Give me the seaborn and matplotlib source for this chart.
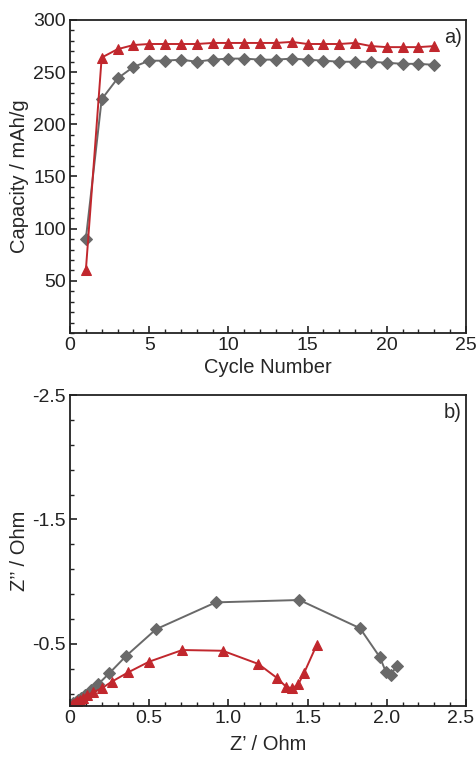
import numpy as np
import pandas as pd
import matplotlib
matplotlib.use("Agg")
import matplotlib.pyplot as plt
import matplotlib.transforms as mtransforms
from matplotlib.ticker import MultipleLocator, FixedLocator
import seaborn as sns

sns.set_theme(style="white")
plt.rcParams['font.family'] = ['Liberation Sans', 'DejaVu Sans']

# ---- panel a) data ----
cycles = list(range(1, 24))
cap_gray = [90, 224, 244, 255, 261, 261, 262, 260, 262, 263, 263, 262, 262, 263,
            262, 261, 260, 260, 260, 259, 258, 258, 257]
cap_red = [60, 264, 272, 276, 277, 277, 277, 277, 278, 278, 278, 278, 278, 279,
           277, 277, 277, 278, 275, 274, 274, 274, 275]

# ---- panel b) data ----
zre_gray = [0.0, 0.01, 0.02, 0.035, 0.05, 0.07, 0.095, 0.13, 0.179, 0.248, 0.354,
            0.543, 0.92, 1.448, 1.831, 1.957, 1.995, 2.025, 2.062]
zim_gray = [-0.005, -0.012, -0.022, -0.035, -0.05, -0.068, -0.09, -0.125, -0.177,
            -0.263, -0.402, -0.617, -0.833, -0.852, -0.625, -0.391, -0.271, -0.249, -0.322]
zre_red = [0.0, 0.01, 0.02, 0.03, 0.045, 0.06, 0.08, 0.11, 0.147, 0.2, 0.263, 0.368,
           0.499, 0.709, 0.964, 1.189, 1.305, 1.364, 1.403, 1.441, 1.477, 1.557]
zim_red = [-0.003, -0.01, -0.018, -0.026, -0.037, -0.05, -0.065, -0.088, -0.11, -0.142,
           -0.195, -0.271, -0.356, -0.45, -0.444, -0.338, -0.227, -0.155, -0.142, -0.174,
           -0.263, -0.49]

GRAY = "#696969"
RED = "#c1272d"
TICK_FS = 14
LABEL_FS = 14.5

fig = plt.figure(figsize=(4.76, 7.57), dpi=100)
axa = fig.add_axes([70/476, 1-333/757, 396/476, 313/757])
axb = fig.add_axes([70/476, 1-706/757, 396/476, 311/757])

dfa = pd.DataFrame({"cycle": cycles, "gray": cap_gray, "red": cap_red})
sns.lineplot(data=dfa, x="cycle", y="gray", ax=axa, color=GRAY, marker="D",
             markersize=6, markeredgecolor=GRAY, linewidth=1.4, estimator=None, sort=False)
sns.lineplot(data=dfa, x="cycle", y="red", ax=axa, color=RED, marker="^",
             markersize=7.5, markeredgecolor=RED, linewidth=1.4, estimator=None, sort=False)

dfg = pd.DataFrame({"x": zre_gray, "y": zim_gray})
dfr = pd.DataFrame({"x": zre_red, "y": zim_red})
sns.lineplot(data=dfg, x="x", y="y", ax=axb, color=GRAY, marker="D",
             markersize=6, markeredgecolor=GRAY, linewidth=1.4, estimator=None, sort=False)
sns.lineplot(data=dfr, x="x", y="y", ax=axb, color=RED, marker="^",
             markersize=7.5, markeredgecolor=RED, linewidth=1.4, estimator=None, sort=False)

# axes a formatting
axa.set_xlim(0, 25)
axa.set_ylim(0, 300)
axa.xaxis.set_major_locator(MultipleLocator(5))
axa.xaxis.set_minor_locator(MultipleLocator(1))
axa.set_yticks([50, 100, 150, 200, 250, 300])
axa.yaxis.set_minor_locator(MultipleLocator(10))
axa.set_xlabel("Cycle Number", fontsize=LABEL_FS, va="center")
axa.set_ylabel("Capacity / mAh/g", fontsize=LABEL_FS, va="center")
axa.xaxis.set_label_coords(0.5, (333-368)/313)
axa.yaxis.set_label_coords((20-70)/396, 0.5)
axa.text(0.99, 0.975, "a)", transform=axa.transAxes, ha="right", va="top", fontsize=LABEL_FS)

# axes b formatting
axb.set_xlim(0, 2.5)
axb.set_ylim(0, -2.5)
axb.set_xticks([0, 0.5, 1.0, 1.5, 2.0, 2.5])
axb.set_xticklabels(["0", "0.5", "1.0", "1.5", "2.0", "2.5"])
axb.xaxis.set_minor_locator(MultipleLocator(0.1))
axb.set_yticks([-2.5, -1.5, -0.5])
axb.set_yticklabels(["-2.5", "-1.5", "-0.5"])
axb.yaxis.set_minor_locator(FixedLocator(np.arange(-2.3, 0, 0.2)))
axb.set_xlabel("Z\u2019 / Ohm", fontsize=LABEL_FS, va="center")
axb.set_ylabel("Z\u2019\u2019 / Ohm", fontsize=LABEL_FS, va="center")
axb.xaxis.set_label_coords(0.5, (706-745)/311)
axb.yaxis.set_label_coords((20-70)/396, 0.5)
axb.text(0.99, 0.975, "b)", transform=axb.transAxes, ha="right", va="top", fontsize=LABEL_FS)

for ax in (axa, axb):
    for sp in ax.spines.values():
        sp.set_color("#222222")
        sp.set_linewidth(1.3)
    ax.tick_params(which="both", direction="in", top=False, right=False,
                   bottom=True, left=True, colors="#222222", labelsize=TICK_FS)
    ax.tick_params(which="major", length=5, width=1.2, pad=3)
    ax.tick_params(which="minor", length=3, width=1.0)
    ax.grid(False)
    ax.set_facecolor("white")

fig.canvas.draw()
shift = mtransforms.ScaledTranslation(-5/100, 0, fig.dpi_scale_trans)
for ax in (axa, axb):
    lbl = ax.get_xticklabels()[-1]
    lbl.set_transform(lbl.get_transform() + shift)

fig.savefig("out.png", dpi=100, facecolor="white")
